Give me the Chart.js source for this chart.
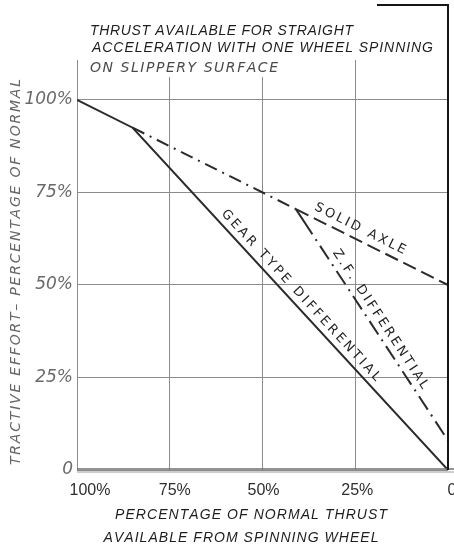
<!DOCTYPE html>
<html>
<head>
<meta charset="utf-8">
<script src="https://cdn.jsdelivr.net/npm/chart.js@4/dist/chart.umd.min.js"></script>
<style>
  html, body { margin: 0; padding: 0; background: #fff; }
  canvas { display: block; }
</style>
</head>
<body>
<canvas id="c" width="454" height="547"></canvas>
<script>
// Percentage of normal thrust available from the spinning wheel (x)
// versus tractive effort as a percentage of normal (y).
const gearX = [100, 85, 0];
const gearY = [100, 92.5, 0];

const axleX = [41, 0];
const axleY = [70.5, 50];

const zfX = [85, 41, 0];
const zfY = [92.5, 70.5, 8];

const xTicks = [100, 75, 50, 25, 0];
const xTickLabels = ['100%', '75%', '50%', '25%', '0'];
const yTicks = [0, 25, 50, 75, 100];
const yTickLabels = ['0', '25%', '50%', '75%', '100%'];

const titleLines = ['THRUST AVAILABLE FOR STRAIGHT', 'ACCELERATION WITH ONE WHEEL SPINNING'];
const subTitle = 'ON SLIPPERY SURFACE';
const xTitleLines = ['PERCENTAGE OF NORMAL THRUST', 'AVAILABLE FROM SPINNING WHEEL'];
const yTitle = 'TRACTIVE EFFORT\u2013 PERCENTAGE OF NORMAL';

const seriesNames = ['GEAR TYPE DIFFERENTIAL', 'SOLID AXLE', 'Z.F. DIFFERENTIAL'];

const pts = (xs, ys) => xs.map((x, i) => ({ x, y: ys[i] }));
const INK = '#2b2b2b';

// Draw text with even letter spacing so that it spans a given width.
function spacedText(ctx, text, x, y, width, align) {
  const chars = [...text];
  const ws = chars.map(ch => ctx.measureText(ch).width);
  const natural = ws.reduce((a, b) => a + b, 0);
  const gap = chars.length > 1 ? (width - natural) / (chars.length - 1) : 0;
  let cx = align === 'center' ? x - width / 2 : x;
  ctx.textAlign = 'left';
  chars.forEach((ch, i) => { ctx.fillText(ch, cx, y); cx += ws[i] + gap; });
}

// Labels set along a segment of a series: fraction t along the segment,
// perpendicular offset above the line, overall text length.
const lineLabels = [
  { text: seriesNames[0], xs: gearX, ys: gearY, seg: 1, t: 0.51, off: 10, len: 228 },
  { text: seriesNames[1], xs: axleX, ys: axleY, seg: 0, t: 0.39, off: 11, len: 100 },
  { text: seriesNames[2], xs: zfX, ys: zfY, seg: 1, t: 0.50, off: 10, len: 164 }
];

const decorations = {
  id: 'decorations',
  afterDraw(chart) {
    const { ctx, chartArea: a, scales: { x, y } } = chart;
    ctx.save();

    // double baseline along zero tractive effort
    const y0 = y.getPixelForValue(0);
    ctx.strokeStyle = '#6f6f6f';
    ctx.lineWidth = 1.6;
    ctx.beginPath(); ctx.moveTo(a.left, y0 - 1); ctx.lineTo(454, y0 - 1); ctx.stroke();
    ctx.lineWidth = 1;
    ctx.strokeStyle = '#9a9a9a';
    ctx.beginPath(); ctx.moveTo(a.left, y0 + 2); ctx.lineTo(454, y0 + 2); ctx.stroke();

    // heavy right frame with short top return
    const xr = x.getPixelForValue(0);
    ctx.strokeStyle = '#151515';
    ctx.lineWidth = 2;
    ctx.beginPath();
    ctx.moveTo(377, 5); ctx.lineTo(xr, 5); ctx.lineTo(xr, y0);
    ctx.stroke();

    // heading
    ctx.fillStyle = '#1e1e1e';
    ctx.textBaseline = 'middle';
    ctx.font = 'italic 14px "Liberation Sans", Arial, sans-serif';
    spacedText(ctx, titleLines[0], 90, 31, 263, 'left');
    spacedText(ctx, titleLines[1], 92, 48, 341, 'left');

    // sub-heading on a white band over the grid
    ctx.fillStyle = '#fff';
    ctx.fillRect(86, 59, 196, 18);
    ctx.fillStyle = '#4a4a4a';
    ctx.font = 'italic 14px "DejaVu Sans", sans-serif';
    spacedText(ctx, subTitle, 90, 68, 188, 'left');

    // x tick labels
    ctx.fillStyle = '#2e2e2e';
    ctx.font = '16px "Liberation Sans", Arial, sans-serif';
    const nudge = [13, 5, 1, 2, 4];
    xTicks.forEach((v, i) => {
      ctx.textAlign = 'center';
      ctx.fillText(xTickLabels[i], x.getPixelForValue(v) + nudge[i], 491);
    });

    // x title
    ctx.fillStyle = '#1e1e1e';
    ctx.font = 'italic 14px "Liberation Sans", Arial, sans-serif';
    spacedText(ctx, xTitleLines[0], 251, 515, 272, 'center');
    spacedText(ctx, xTitleLines[1], 241, 538, 275, 'center');

    // y title
    ctx.save();
    ctx.translate(16, 272);
    ctx.rotate(-Math.PI / 2);
    ctx.fillStyle = '#666';
    ctx.font = 'italic 14px "DejaVu Sans", sans-serif';
    spacedText(ctx, yTitle, 0, 0, 386, 'center');
    ctx.restore();

    // series names written along their lines
    ctx.fillStyle = '#262626';
    ctx.font = '13px "DejaVu Sans", sans-serif';
    lineLabels.forEach(l => {
      const x0 = x.getPixelForValue(l.xs[l.seg]), ya = y.getPixelForValue(l.ys[l.seg]);
      const x1 = x.getPixelForValue(l.xs[l.seg + 1]), yb = y.getPixelForValue(l.ys[l.seg + 1]);
      const ang = Math.atan2(yb - ya, x1 - x0);
      ctx.save();
      ctx.translate(x0 + (x1 - x0) * l.t, ya + (yb - ya) * l.t);
      ctx.rotate(ang);
      ctx.textBaseline = 'middle';
      spacedText(ctx, l.text, 0, -l.off, l.len, 'center');
      ctx.restore();
    });

    ctx.restore();
  }
};

new Chart(document.getElementById('c'), {
  type: 'line',
  data: {
    datasets: [
      {
        label: seriesNames[0],
        data: pts(gearX, gearY),
        borderColor: INK, borderWidth: 2, pointRadius: 0, tension: 0
      },
      {
        label: seriesNames[1],
        data: pts(axleX, axleY),
        borderColor: INK, borderWidth: 2, pointRadius: 0, tension: 0,
        borderDash: [14, 6]
      },
      {
        label: seriesNames[2],
        data: pts(zfX, zfY),
        borderColor: INK, borderWidth: 2, pointRadius: 0, tension: 0,
        borderDash: [13, 6, 2, 6],
        segment: {
          borderDash: c => c.p0DataIndex === 0 ? [13, 6, 2, 6] : [30, 6, 2, 6, 16, 6, 2, 6, 16, 6, 2, 6, 16, 6, 2, 6, 16, 6, 2, 6, 16, 6, 2, 6, 16, 6, 2, 6, 16, 6, 2, 6, 16, 6, 2, 6, 16, 6, 2, 6]
        }
      }
    ]
  },
  options: {
    responsive: false,
    devicePixelRatio: 1,
    animation: false,
    layout: { padding: { top: 60, right: 6, left: 0, bottom: 0 } },
    plugins: { legend: { display: false }, tooltip: { enabled: false }, title: { display: false } },
    scales: {
      x: {
        type: 'linear',
        reverse: true,
        min: 0,
        max: 100,
        afterBuildTicks: s => { s.ticks = xTicks.map(v => ({ value: v })); },
        afterFit: s => { s.height = 77; },
        ticks: { display: false },
        grid: { color: '#8c8c8c', lineWidth: 1, drawTicks: false },
        border: { display: false }
      },
      y: {
        type: 'linear',
        min: 0,
        max: 110.8,
        afterBuildTicks: s => { s.ticks = yTicks.map(v => ({ value: v })); },
        afterFit: s => { s.width = 77; },
        ticks: {
          padding: 4,
          color: '#6a6a6a',
          font: { family: '"DejaVu Sans", sans-serif', size: 17, style: 'italic' },
          callback: v => yTickLabels[yTicks.indexOf(v)]
        },
        grid: { color: '#8c8c8c', lineWidth: 1, drawTicks: false },
        border: { display: false }
      }
    }
  },
  plugins: [decorations]
});
</script>
</body>
</html>
